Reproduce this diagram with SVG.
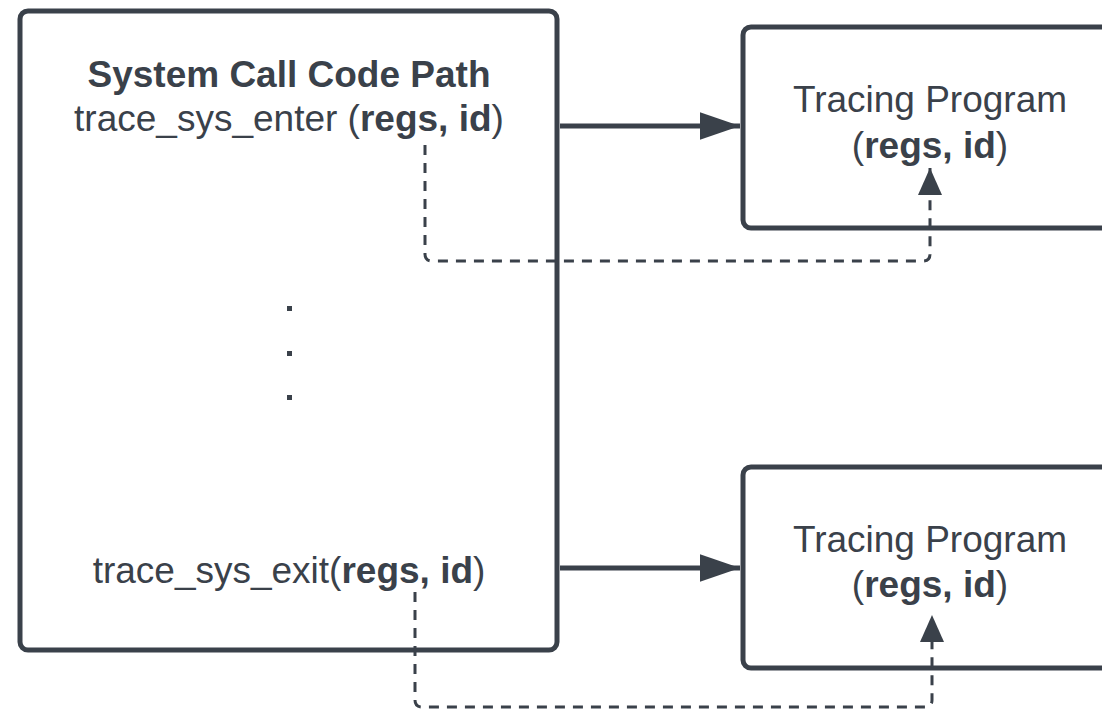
<svg xmlns="http://www.w3.org/2000/svg" width="1102" height="710" viewBox="0 0 1102 710">
<style>
.box{fill:#fff;stroke:#3a414a;stroke-width:5}
.t{font-family:"Liberation Sans",Arial,sans-serif;font-size:37px;fill:#3a414a;text-anchor:middle}
.b{font-weight:bold}
.solid{fill:none;stroke:#3a414a;stroke-width:5}
.dash{fill:none;stroke:#3a414a;stroke-width:3;stroke-dasharray:10 8}
</style>
<defs>
<marker id="ah" markerWidth="8" markerHeight="5.5" refX="8" refY="2.75" orient="auto" markerUnits="strokeWidth">
<path d="M0,0 L8,2.75 L0,5.5 Z" fill="#3a414a"/>
</marker>
<marker id="ahd" markerWidth="9" markerHeight="8" refX="9" refY="4" orient="auto" markerUnits="strokeWidth">
<path d="M0,0 L9,4 L0,8 Z" fill="#3a414a"/>
</marker>
</defs>
<rect width="1102" height="710" fill="#fff"/>
<g id="syscall">
<rect class="box" x="20" y="11" width="537" height="639" rx="8"/>
<text class="t b" x="289" y="87">System Call Code Path</text>
<text class="t" x="289" y="131">trace_sys_enter (<tspan class="b">regs, id</tspan>)</text>
<rect x="287" y="306" width="5" height="5" fill="#3a414a"/>
<rect x="287" y="351" width="5" height="5" fill="#3a414a"/>
<rect x="287" y="395" width="5" height="5" fill="#3a414a"/>
<text class="t" x="289" y="583">trace_sys_exit(<tspan class="b">regs, id</tspan>)</text>
</g>
<g id="tracing1">
<rect class="box" x="743" y="27" width="380" height="201" rx="8"/>
<text class="t" x="930" y="112">Tracing Program</text>
<text class="t" x="930" y="158">(<tspan class="b">regs, id</tspan>)</text>
</g>
<g id="tracing2">
<rect class="box" x="743" y="467" width="380" height="201" rx="8"/>
<text class="t" x="930" y="552">Tracing Program</text>
<text class="t" x="930" y="597">(<tspan class="b">regs, id</tspan>)</text>
</g>
<g id="connectors">
<path class="solid" d="M560,126 H740" marker-end="url(#ah)"/>
<path class="solid" d="M560,568 H740" marker-end="url(#ah)"/>
<path class="dash" d="M425,145 V254 Q425,261 432,261 H923 Q930,261 930,254 V168" marker-end="url(#ahd)"/>
<path class="dash" d="M415,592 V700 Q415,707 422,707 H925 Q932,707 932,700 V615" marker-end="url(#ahd)"/>
</g>
</svg>
